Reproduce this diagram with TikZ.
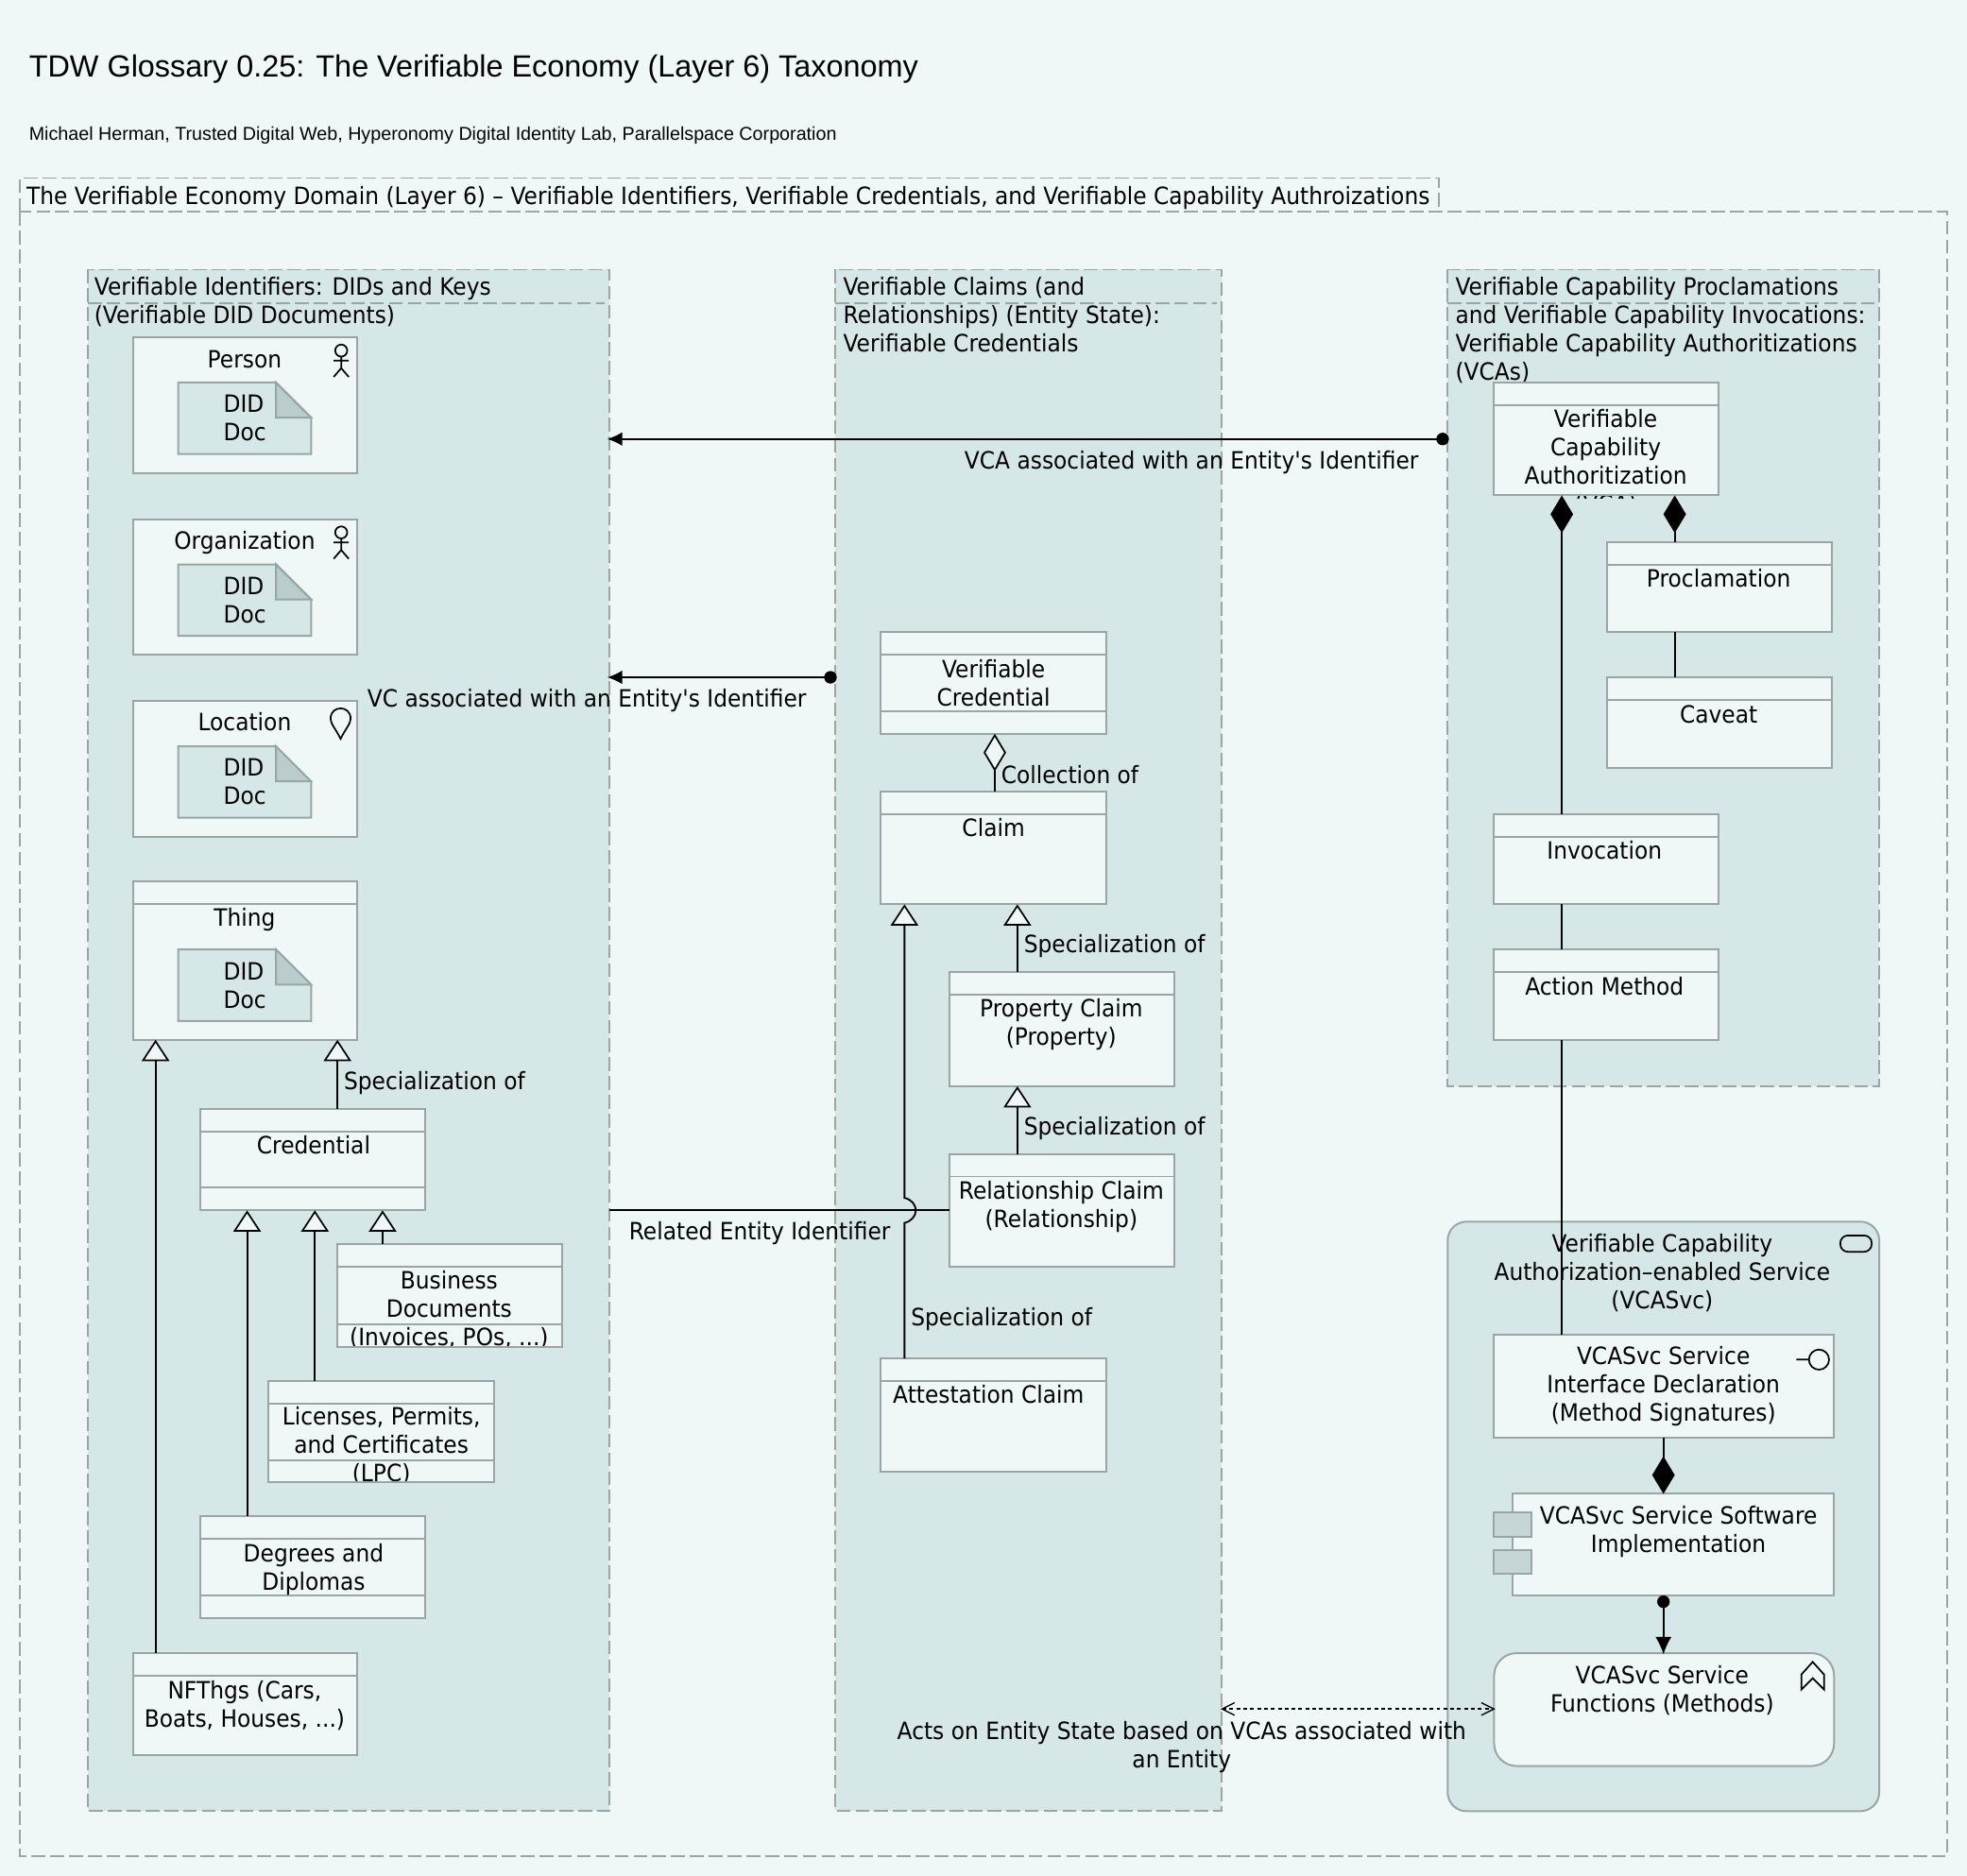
\documentclass[tikz,border=0pt]{standalone}
\usepackage{fontspec}
\newfontfamily\labelfont[FakeStretch=0.925]{DejaVu Sans}
\newfontfamily\titlefont{Liberation Sans}
\usetikzlibrary{arrows.meta,shapes.geometric}
\definecolor{pagebg}{HTML}{EFF8F7}
\definecolor{panelbg}{HTML}{D5E8E7}
\definecolor{edgegrey}{HTML}{9AA6A6}
\definecolor{foldgrey}{HTML}{B9CDCC}
\definecolor{portgrey}{HTML}{C6D5D5}
\tikzset{
  panel/.style={draw=edgegrey, fill=panelbg, line width=1.4pt, dash pattern=on 11pt off 4pt},
  tab/.style={draw=edgegrey, line width=1.4pt, dash pattern=on 11pt off 4pt},
  box/.style={draw=edgegrey, fill=pagebg, line width=1.5pt},
  word/.style={inner sep=0pt, font=\labelfont\fontsize{19}{22.6}\selectfont, align=center, text=black, yshift=-1.5pt},
  lword/.style={word, align=left, anchor=north west},
  link/.style={line width=1.4pt, black},
  icon/.style={line width=1.3pt, black},
  spec/.style={link, -{Triangle[open, fill=pagebg, length=17pt, width=22pt, line width=1.3pt]}},
  whole/.style={link, {Diamond[length=30pt, width=18pt]}-},
  dotend/.style={link, {Circle[length=10pt]}-{Latex[length=14pt, width=13pt]}}
}
% box with header line: name, left, top, right, bottom, header y (0 for none)
\newcommand{\umlbox}[6]{%
  \path[box] (#2,#3) rectangle (#4,#5);
  \coordinate (#1) at (#2,#3);
  \ifnum#6>0 \draw[box] (#2,#6) -- (#4,#6);\fi
}
% did document note
\newcommand{\didnote}[2]{%
  \draw[box, fill=panelbg] (142,#1) -- (220,#1) -- (248,#1+28) -- (248,#1+57) -- (142,#1+57) -- cycle;
  \draw[box, fill=foldgrey] (220,#1) -- (248,#1+28) -- (220,#1+28) -- cycle;
  \node[word, anchor=west, align=left] (#2) at (178,#1+27) {DID\\Doc};
}
\newcommand{\actoricon}[1]{%
  \draw[icon] (272,#1) circle (4.8) (272,#1+4.8) -- (272,#1+14) (266,#1+8) -- (278,#1+8) (266,#1+21) -- (272,#1+14) -- (278,#1+21);
}
\begin{document}
\begin{tikzpicture}[x=1pt,y=-1pt]
  \useasboundingbox (0,0) rectangle (1568,1495.6);
  \fill[pagebg] (0,0) rectangle (1568,1495.6);

  % Title
  \node[anchor=west, inner sep=0pt, font=\titlefont\fontsize{24.4}{28}\selectfont] (title) at (23,55) {TDW Glossary 0.25: The Verifiable Economy (Layer 6) Taxonomy};
  \node[anchor=west, inner sep=0pt, font=\titlefont\fontsize{14.85}{16}\selectfont] (subtitle) at (23,108) {Michael Herman, Trusted Digital Web, Hyperonomy Digital Identity Lab, Parallelspace Corporation};

  % Outer domain
  \draw[tab] (16,169) -- (16,142) -- (1147,142) -- (1147,169);
  \draw[tab] (16,169) rectangle (1552,1480);
  \node[word, anchor=west] (domain) at (21,156.5) {The Verifiable Economy Domain (Layer 6) – Verifiable Identifiers, Verifiable Credentials, and Verifiable Capability Authroizations};

  % Three panels
  \draw[panel] (70,215) rectangle (486,1444);
  \draw[tab] (70,242) -- (482,242);
  \draw[panel] (666,215) rectangle (974,1444);
  \draw[tab] (666,242) -- (970,242);
  \draw[panel] (1154,215) rectangle (1498,866);
  \draw[tab] (1154,242) -- (1494,242);
  \node[lword] (idtitle) at (75,219) {Verifiable Identifiers: DIDs and Keys\\(Verifiable DID Documents)};
  \node[lword] (vctitle) at (672,219) {Verifiable Claims (and\\Relationships) (Entity State):\\Verifiable Credentials};
  \node[lword] (vcatitle) at (1160,219) {Verifiable Capability Proclamations\\and Verifiable Capability Invocations:\\Verifiable Capability Authoritizations\\(VCAs)};

  % Service panel
  \draw[box, fill=panelbg, rounded corners=15pt] (1154,974) rectangle (1498,1444);
  \draw[icon, rounded corners=6pt] (1467,985) rectangle (1492,998);

  % Left column: entities
  \umlbox{person}{106}{269}{285}{377}{0}
  \node[word] (personl) at (195,285) {Person};
  \actoricon{279.5}
  \didnote{305}{persondoc}
  \umlbox{org}{106}{414}{285}{522}{0}
  \node[word] (orgl) at (195,431) {Organization};
  \actoricon{424.5}
  \didnote{450}{orgdoc}
  \umlbox{loc}{106}{559}{285}{667}{0}
  \node[word] (locl) at (195,574) {Location};
  \draw[icon] (271.5,589) .. controls (267.5,581) and (263.5,577) .. (263.5,573) .. controls (263.5,562) and (279.5,562) .. (279.5,573) .. controls (279.5,577) and (275.5,581) .. (271.5,589) -- cycle;
  \didnote{595}{locdoc}
  \umlbox{thing}{106}{703}{285}{829}{721}
  \node[word] (thingl) at (195,732) {Thing};
  \didnote{757}{thingdoc}
  \umlbox{cred}{160}{884}{339}{965}{902}
  \draw[box] (160,947) -- (339,947);
  \node[word] (credl) at (250,911) {Credential};
  \umlbox{busdoc}{269}{992}{448}{1074}{1010}
  \draw[box] (269,1056) -- (448,1056);
  \begin{scope}
    \clip (269,992) rectangle (448,1074);
    \node[word] (busdocl) at (358,1043) {Business\\Documents\\(Invoices, POs, ...)};
  \end{scope}
  \path[box, fill=none] (269,992) rectangle (448,1074);
  \umlbox{lpc}{214}{1101}{394}{1182}{1119}
  \draw[box] (214,1164) -- (394,1164);
  \begin{scope}
    \clip (214,1101) rectangle (394,1182);
    \node[word] (lpcl) at (304,1151.5) {Licenses, Permits,\\and Certificates\\(LPC)};
  \end{scope}
  \path[box, fill=none] (214,1101) rectangle (394,1182);
  \umlbox{degree}{160}{1209}{339}{1290}{1227}
  \draw[box] (160,1272) -- (339,1272);
  \node[word] (degreel) at (250,1249.5) {Degrees and\\Diplomas};
  \umlbox{nft}{106}{1318}{285}{1399}{1336}
  \node[word] (nftl) at (195,1358.5) {NFThgs (Cars,\\Boats, Houses, ...)};

  % Middle column: claims
  \umlbox{vc}{702}{504}{882}{585}{522}
  \draw[box] (702,567) -- (882,567);
  \node[word] (vcl) at (792,543) {Verifiable\\Credential};
  \umlbox{claim}{702}{631}{882}{721}{649}
  \node[word] (claiml) at (792,658) {Claim};
  \umlbox{prop}{757}{775}{936}{866}{793}
  \node[word] (propl) at (846,815.5) {Property Claim\\(Property)};
  \umlbox{rel}{757}{920}{936}{1010}{938}
  \node[word] (rell) at (846,960.5) {Relationship Claim\\(Relationship)};
  \umlbox{attest}{702}{1083}{882}{1173}{1101}
  \node[word] (attestl) at (788,1110) {Attestation Claim};

  % Right column: authorization
  \umlbox{vca}{1191}{305}{1370}{395}{323}
  \begin{scope}
    \clip (1191,305) rectangle (1370,397);
    \node[word] (vcal) at (1280,367.5) {Verifiable\\Capability\\Authoritization\\(VCA)};
  \end{scope}
  \draw[box, fill=none] (1191,395) -- (1370,395);
  \umlbox{procl}{1281}{432}{1460}{504}{450}
  \node[word] (procll) at (1370,459.5) {Proclamation};
  \umlbox{caveat}{1281}{540}{1460}{612}{558}
  \node[word] (caveatl) at (1370,568) {Caveat};
  \umlbox{invoke}{1191}{649}{1370}{721}{667}
  \node[word] (invokel) at (1279,676.5) {Invocation};
  \umlbox{action}{1191}{757}{1370}{829}{775}
  \node[word] (actionl) at (1279,784.5) {Action Method};

  % Service parts
  \umlbox{iface}{1191}{1064}{1462}{1146}{0}
  \node[word] (ifacel) at (1326,1104) {VCASvc Service\\Interface Declaration\\(Method Signatures)};
  \draw[icon] (1432,1084) -- (1442,1084) (1450,1084) circle (8);
  \umlbox{impl}{1206}{1191}{1462}{1272}{0}
  \draw[box, fill=portgrey] (1191,1206) rectangle (1221,1225);
  \draw[box, fill=portgrey] (1191,1236) rectangle (1221,1255);
  \node[word] (impll) at (1338,1219.5) {VCASvc Service Software\\Implementation};
  \draw[box, rounded corners=18pt] (1191,1318) rectangle (1462,1408);
  \coordinate (func) at (1191,1318);
  \node[word] (funcl) at (1325,1346) {VCASvc Service\\Functions (Methods)};
  \draw[icon] (1436,1335) -- (1445,1325) -- (1454,1335) -- (1454,1347) -- (1445,1338) -- (1436,1347) -- cycle;

  % Specializations
  \draw[spec] (124,1318) -- (124,829);
  \draw[spec] (197,1209) -- (197,965);
  \draw[spec] (251,1101) -- (251,965);
  \draw[spec] (305,992) -- (305,965);
  \draw[spec] (269,884) -- (269,829);
  \draw[spec] (811,775) -- (811,721);
  \draw[spec] (811,920) -- (811,866);
  \draw[spec] (721,1083) -- (721,975) .. controls (733,972) and (733,958) .. (721,955) -- (721,721);
  \node[word, anchor=west] (spec1) at (274,862) {Specialization of};
  \node[word, anchor=west] (spec2) at (816,753) {Specialization of};
  \node[word, anchor=west] (spec3) at (816,898) {Specialization of};
  \node[word, anchor=west] (spec4) at (726,1050) {Specialization of};

  % Aggregations and compositions
  \draw[link, {Diamond[open, fill=pagebg, length=30pt, width=18pt, line width=1.3pt]}-] (793,585) -- (793,631);
  \node[word, anchor=west] (collect) at (798,616) {Collection of};
  \draw[whole] (1245,395) -- (1245,649);
  \draw[whole] (1335,395) -- (1335,432);
  \draw[link] (1335,504) -- (1335,540);
  \draw[link] (1245,721) -- (1245,757);
  \draw[link] (1245,829) -- (1245,1064);
  \draw[link, -{Diamond[length=30pt, width=18pt]}] (1326,1146) -- (1326,1191);
  \draw[dotend] (1326,1272) -- (1326,1319);
  \node[word] (svcl) at (1325,1013.5) {Verifiable Capability\\Authorization–enabled Service\\(VCASvc)};

  % Associations between panels
  \draw[link, {Circle[length=10pt]}-{Latex[length=12pt, width=11pt]}] (1155,350) -- (484,350);
  \node[word, anchor=east] (vcaassoc) at (1131,367) {VCA associated with an Entity's Identifier};
  \draw[link, {Circle[length=10pt]}-{Latex[length=12pt, width=11pt]}] (667,540) -- (484,540);
  \node[word, anchor=east] (vcassoc) at (643,557) {VC associated with an Entity's Identifier};
  \draw[link] (486,965) -- (757,965);
  \node[word, anchor=east] (relassoc) at (710,982) {Related Entity Identifier};
  \draw[link, line width=1pt, dash pattern=on 3pt off 2.5pt, {Straight Barb[length=10pt, width=10pt, line width=1pt]}-{Straight Barb[length=10pt, width=10pt, line width=1pt]}] (973,1362.5) -- (1192,1362.5);
  \node[word] (acts) at (942,1391.5) {Acts on Entity State based on VCAs associated with\\an Entity};
\end{tikzpicture}
\end{document}
